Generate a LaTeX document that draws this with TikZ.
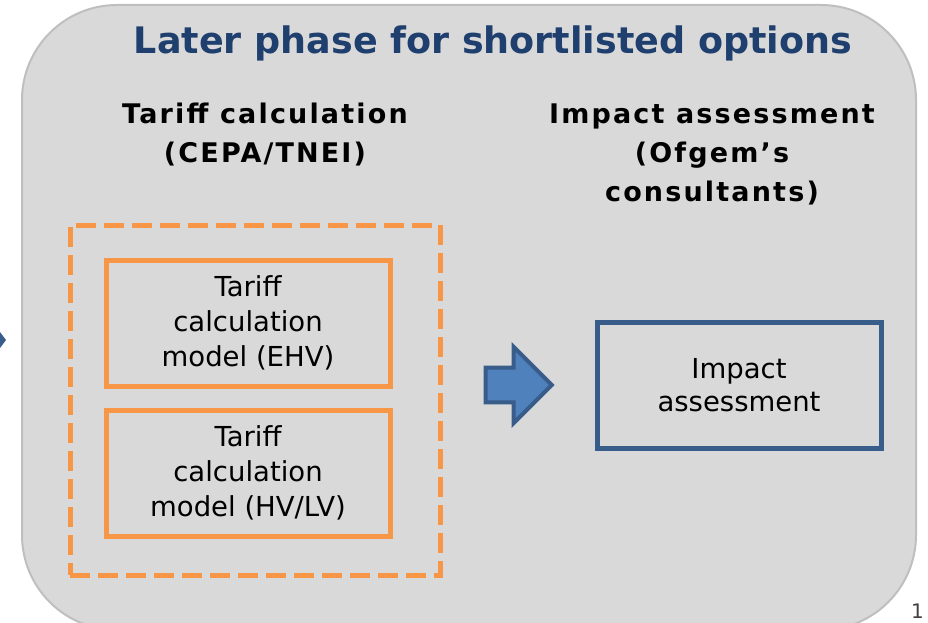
\documentclass[tikz,border=0pt]{standalone}
\usepackage{fontspec}
\setmainfont{DejaVu Sans}
\usetikzlibrary{shapes.arrows}
\definecolor{bgfill}{HTML}{D9D9D9}
\definecolor{bgline}{HTML}{BFBFBF}
\definecolor{titleblue}{HTML}{1F3F6E}
\definecolor{orng}{HTML}{F79646}
\definecolor{dblue}{HTML}{385D8A}
\definecolor{lblue}{HTML}{4F81BD}
\tikzset{
  heading/.style={font=\bfseries\fontsize{27}{39}\selectfont\addfontfeature{LetterSpace=8}, align=center, text=black},
  modelbox/.style={draw=orng, line width=5pt, minimum width=284pt, minimum height=126pt, align=center, font=\fontsize{27.5}{35}\selectfont, text=black},
  impactbox/.style={draw=dblue, line width=5pt, minimum width=284pt, minimum height=126pt, align=center, font=\fontsize{27.5}{33}\selectfont, text=black},
}
\begin{document}
\begin{tikzpicture}[x=1pt,y=-1pt]
\useasboundingbox (0,0) rectangle (928,623);
\begin{scope}
\clip (0,0) rectangle (928,623);
\draw[fill=bgfill, draw=bgline, line width=2pt, rounded corners=95pt] (22,5) rectangle (916,630);
\fill[dblue] (0,332) -- (6,340) -- (0,348) -- cycle;
\end{scope}
\node[anchor=west, font=\fontsize{20}{24}\selectfont, text=black!75, inner sep=0pt] (pg) at (911,611) {1};
\node[font=\bfseries\fontsize{36.5}{40}\selectfont, text=titleblue] (title) at (493,43) {Later phase for shortlisted options};
\node[heading] (h1) at (265,135) {Tariff calculation\\(CEPA/TNEI)};
\node[heading] (h2) at (712,154) {Impact assessment\\(Ofgem’s\\consultants)};
\node[draw=orng, line width=5pt, dash pattern=on 20pt off 8pt, minimum width=370pt, minimum height=350pt] (group) at (255,400) {};
\node[modelbox] (ehv) at (248,323) {Tariff\\calculation\\model (EHV)};
\node[modelbox] (hvlv) at (248,473) {Tariff\\calculation\\model (HV/LV)};
\node[impactbox] (impact) at (739,385) {Impact\\assessment};
\node[single arrow, draw=dblue, fill=lblue, line width=4pt, minimum height=66pt, minimum width=76pt, single arrow head extend=20pt, inner sep=0pt, text height=30pt, text width=0pt] (arr) at (510,385) {};
\end{tikzpicture}
\end{document}
